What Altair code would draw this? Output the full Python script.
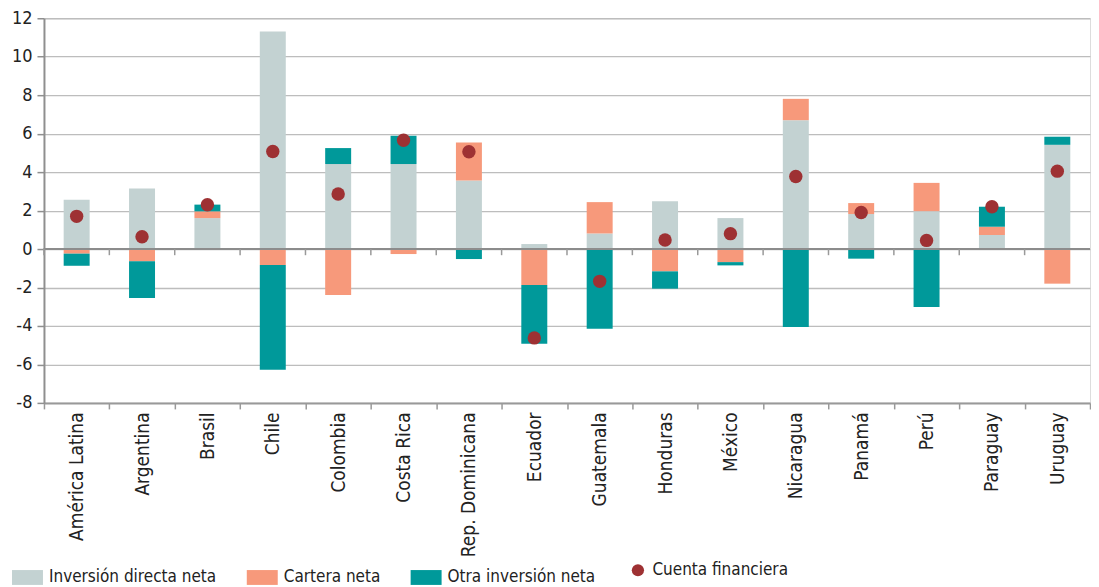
import altair as alt
import pandas as pd

paises = ["América Latina", "Argentina", "Brasil", "Chile", "Colombia", "Costa Rica",
          "Rep. Dominicana", "Ecuador", "Guatemala", "Honduras", "México", "Nicaragua",
          "Panamá", "Perú", "Paraguay", "Uruguay"]
inv_directa = [2.56, 3.15, 1.61, 11.31, 4.42, 4.42, 3.57, 0.26, 0.81, 2.49, 1.61, 6.70, 1.82, 1.97, 0.73, 5.42]
cartera = [-0.24, -0.64, 0.35, -0.83, -2.39, -0.26, 1.97, -1.87, 1.63, -1.16, -0.68, 1.11, 0.57, 1.47, 0.43, -1.80]
otra = [-0.63, -1.90, 0.35, -5.44, 0.83, 1.47, -0.52, -3.05, -4.14, -0.90, -0.17, -4.05, -0.50, -3.01, 1.04, 0.42]
cuenta = [1.70, 0.64, 2.30, 5.07, 2.86, 5.66, 5.06, -4.62, -1.68, 0.47, 0.80, 3.77, 1.90, 0.45, 2.20, 4.05]
y_ticks = [-8, -6, -4, -2, 0, 2, 4, 6, 8, 10, 12]

series = ["Inversión directa neta", "Cartera neta", "Otra inversión neta"]
colores = ["#c3d2d2", "#f7997b", "#00999a"]
punto_serie = "Cuenta financiera"
punto_color = "#9e3133"

rows = []
for i, p in enumerate(paises):
    for k, (s, vals) in enumerate(zip(series, [inv_directa, cartera, otra])):
        rows.append({"pais": p, "serie": s, "valor": vals[i], "orden": k})
df_bars = pd.DataFrame(rows)
df_pts = pd.DataFrame({"pais": paises, "valor": cuenta, "serie_p": punto_serie})

FONT = "DejaVu Sans Condensed, Roboto"

x_axis = alt.Axis(labelAngle=-90, tickBand="extent", labelFontSize=19,
                  labelPadding=3, tickSize=6, domainColor="#999999",
                  tickColor="#999999", domainWidth=2, tickWidth=1.5,
                  labelColor="#222222", grid=False)
x_scale = alt.Scale(paddingInner=0, paddingOuter=0)
y_scale = alt.Scale(domain=[-8, 12], nice=False, zero=False)
y_axis = alt.Axis(values=y_ticks, tickCount=len(y_ticks) + 10, title=None,
                  labelExpr="'' + datum.value",
                  labelFontSize=18, labelOverlap=False,
                  grid=True, gridColor="#bdbdbd", gridWidth=1.3, domainColor="#8f8f8f",
                  domainWidth=2, tickColor="#8f8f8f", tickWidth=1.5, tickSize=7,
                  labelPadding=5, labelColor="#222222", minExtent=34, maxExtent=34)


def xenc(**kw):
    return alt.X("pais:N", sort=paises, title=None, scale=x_scale, axis=x_axis, **kw)


def yenc(field="valor:Q", **kw):
    return alt.Y(field, scale=y_scale, axis=y_axis, **kw)


rect_path = "M-1,-0.48L1,-0.48L1,0.48L-1,0.48Z"

bars = alt.Chart(df_bars).mark_bar(size=26).encode(
    x=xenc(),
    y=yenc(stack="zero"),
    color=alt.Color("serie:N", scale=alt.Scale(domain=series, range=colores),
                    legend=alt.Legend(title=None, orient="none", direction="horizontal",
                                      legendX=-32, legendY=544, symbolType=rect_path,
                                      symbolSize=961, symbolStrokeWidth=0,
                                      labelFontSize=17, labelOffset=6, columnPadding=30,
                                      labelColor="#222222", labelLimit=400)),
    order=alt.Order("orden:Q", sort="ascending"),
)

zero = alt.Chart(df_pts).mark_rule(color="#8c8c8c", strokeWidth=2).encode(
    y=alt.datum(0, scale=y_scale, axis=y_axis))

zero_ticks = alt.Chart(df_pts).mark_rule(color="#999999", strokeWidth=1.5).encode(
    x=alt.X("pais:N", sort=paises, title=None, scale=x_scale, axis=x_axis, bandPosition=0),
    y=alt.datum(0, scale=y_scale, axis=y_axis),
    y2=alt.datum(-0.32),
)

pts = alt.Chart(df_pts).mark_circle(size=180, opacity=1).encode(
    x=xenc(),
    y=yenc(),
    fill=alt.Fill("serie_p:N", scale=alt.Scale(domain=[punto_serie], range=[punto_color]),
                  legend=alt.Legend(title=None, orient="none", direction="horizontal",
                                    legendX=586, legendY=544, symbolType="circle",
                                    symbolSize=150, symbolStrokeWidth=0,
                                    labelFontSize=17, labelOffset=6,
                                    labelColor="#222222", labelLimit=400)),
)

chart = alt.layer(bars, zero, zero_ticks, pts).properties(
    width=1047, height=385,
    padding={"left": 2, "top": 1, "right": 0, "bottom": 0},
).configure_view(stroke=None).configure(font=FONT)

chart.save("out.html", embed_options={"renderer": "svg", "actions": False})
